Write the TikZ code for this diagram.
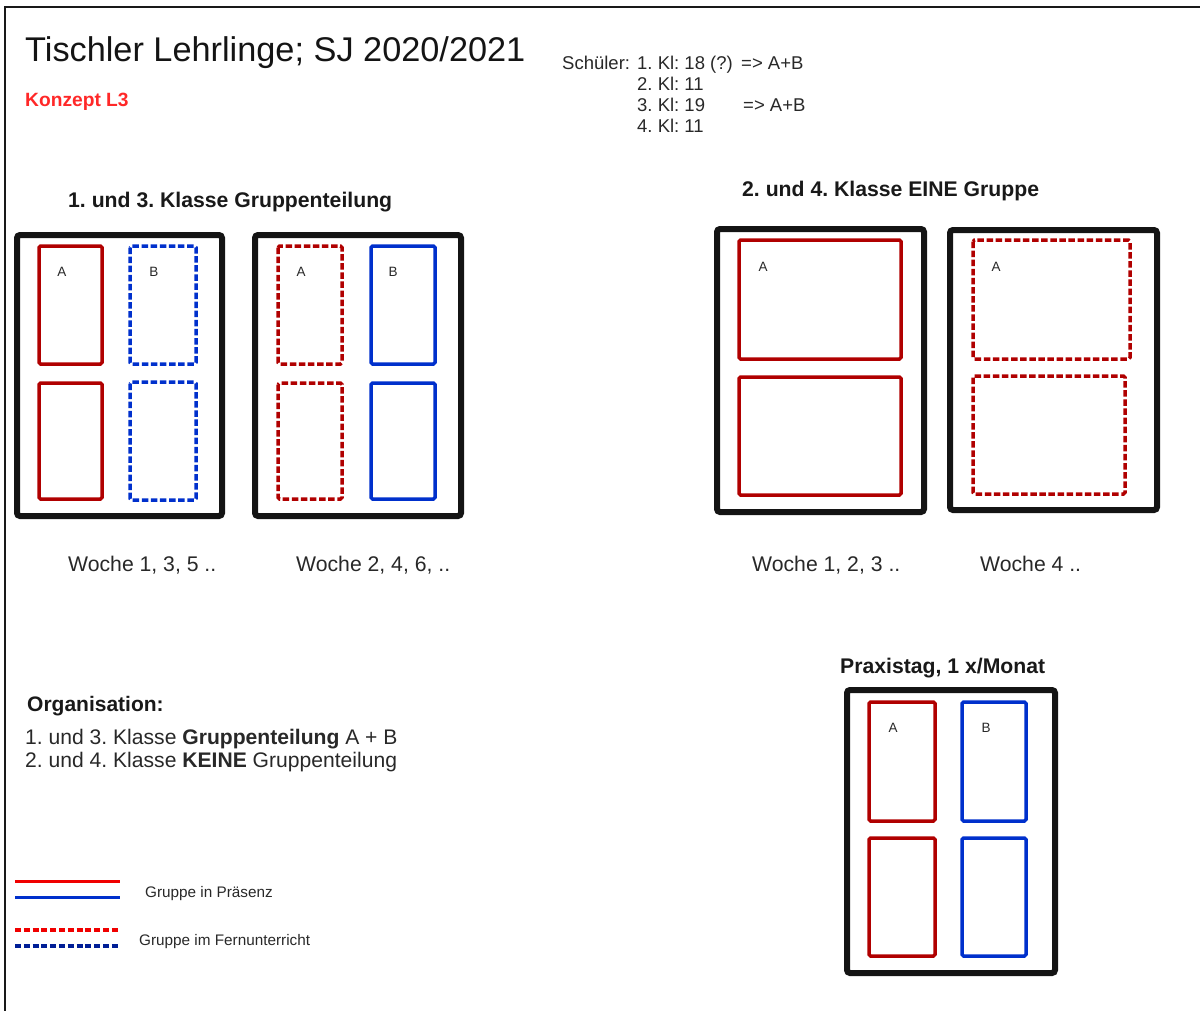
\documentclass[tikz,border=0pt]{standalone}
\usepackage{fontspec}
\setmainfont{Liberation Sans}
\frenchspacing
\definecolor{boxred}{RGB}{176,0,0}
\definecolor{boxblue}{RGB}{0,48,204}
\definecolor{legred}{RGB}{240,0,0}
\definecolor{legblue}{RGB}{0,48,204}
\definecolor{legnavy}{RGB}{0,30,150}
\definecolor{txt}{RGB}{40,40,40}
\definecolor{konz}{RGB}{255,40,40}
\begin{document}
\begin{tikzpicture}[x=1pt,y=-1pt,
  outerbox/.style={draw=black!92, line width=6pt, rounded corners=3pt},
  redsolid/.style={draw=boxred, line width=3.5pt, rounded corners=1.5pt},
  reddash/.style={draw=boxred, line width=3.5pt, rounded corners=1.5pt, dash pattern=on 6.5pt off 2.6pt},
  bluesolid/.style={draw=boxblue, line width=3.5pt, rounded corners=1.5pt},
  bluedash/.style={draw=boxblue, line width=3.5pt, rounded corners=1.5pt, dash pattern=on 6.5pt off 2.6pt},
  lbl/.style={inner sep=0pt, text=txt, font=\fontsize{13.5}{15}\selectfont},
  txtnode/.style={inner sep=0pt, anchor=west, text=txt},
  basenode/.style={inner sep=0pt, anchor=base west, text=txt},
  head/.style={inner sep=0pt, anchor=west, text=black!90, font=\fontsize{21.2}{25}\selectfont\bfseries},
  woche/.style={inner sep=0pt, anchor=base west, text=txt, font=\fontsize{21.2}{25}\selectfont},
]
\useasboundingbox (0,0) rectangle (1200,1010);
% page frame
\draw[line width=2pt, black!90] (5,1012) -- (5,7) -- (1203,7);

% title block
\node[txtnode, text=black!92, font=\fontsize{34.3}{40}\selectfont] (title) at (25,53) {Tischler Lehrlinge; SJ 2020/2021};
\node[txtnode, text=konz, font=\fontsize{19.2}{22}\selectfont\bfseries] (konzept) at (25,102) {Konzept L3};

% Schüler
\begin{scope}[every node/.style={basenode, font=\fontsize{18.5}{22}\selectfont}]
\node (s0) at (562,69) {Schüler:};
\node (s1) at (637,69) {1. Kl: 18 (?)};
\node (s1b) at (741,69) {=> A+B};
\node (s2) at (637,90) {2. Kl: 11};
\node (s3) at (637,111) {3. Kl: 19};
\node (s3b) at (743,111) {=> A+B};
\node (s4) at (637,132) {4. Kl: 11};
\end{scope}

% headings
\node[head] (h13) at (68,202) {1. und 3. Klasse Gruppenteilung};
\node[head] (h24) at (742,191) {2. und 4. Klasse EINE Gruppe};
\node[head] (hpx) at (840,668) {Praxistag, 1 x/Monat};

% box 1 : Woche 1,3,5
\draw[outerbox] (17,235) rectangle (222,516);
\draw[redsolid] (39,246) rectangle (102,364);
\draw[redsolid] (39,383) rectangle (102,499);
\draw[bluedash] (130,246) rectangle (196,364);
\draw[bluedash] (130,382) rectangle (196,500);
\node[lbl] (a1) at (62,272) {A};
\node[lbl] (b1) at (154,272) {B};

% box 2 : Woche 2,4,6
\draw[outerbox] (255,235) rectangle (461,516);
\draw[reddash] (278,246) rectangle (342,364);
\draw[reddash] (278,383) rectangle (342,499);
\draw[bluesolid] (371,246) rectangle (435,364);
\draw[bluesolid] (371,383) rectangle (435,499);
\node[lbl] (a2) at (301,272) {A};
\node[lbl] (b2) at (393,272) {B};

% box 3 : Woche 1,2,3
\draw[outerbox] (717,229) rectangle (924,512);
\draw[redsolid] (739,240) rectangle (901,359);
\draw[redsolid] (739,377) rectangle (901,495);
\node[lbl] (a3) at (763,267) {A};

% box 4 : Woche 4
\draw[outerbox] (950,230) rectangle (1157,510);
\draw[reddash] (973,240) rectangle (1130,359);
\draw[reddash] (973,376) rectangle (1125,494);
\node[lbl] (a4) at (996,267) {A};

% box 5 : Praxistag
\draw[outerbox] (847,690) rectangle (1055,973);
\draw[redsolid] (869,702) rectangle (935,821);
\draw[redsolid] (869,838) rectangle (935,956);
\draw[bluesolid] (962,702) rectangle (1026,821);
\draw[bluesolid] (962,838) rectangle (1026,956);
\node[lbl] (a5) at (893,728) {A};
\node[lbl] (b5) at (986,728) {B};

% Woche labels
\node[woche] (w1) at (68,571.5) {Woche 1, 3, 5 ..};
\node[woche] (w2) at (296,571.5) {Woche 2, 4, 6, ..};
\node[woche] (w3) at (752,571.5) {Woche 1, 2, 3 ..};
\node[woche] (w4) at (980,571.5) {Woche 4 ..};

% Organisation
\node[head, font=\fontsize{21}{25}\selectfont\bfseries] (org) at (27,706) {Organisation:};
\node[txtnode, font=\fontsize{21.1}{25}\selectfont] (org1) at (25,739) {1. und 3. Klasse \textbf{Gruppenteilung} A + B};
\node[txtnode, font=\fontsize{21.1}{25}\selectfont] (org2) at (25,762) {2. und 4. Klasse \textbf{KEINE} Gruppenteilung};

% legend
\coordinate (l1a) at (15,881); \coordinate (l1b) at (120,881);
\coordinate (l2a) at (15,897); \coordinate (l2b) at (120,897);
\coordinate (l3a) at (15,930); \coordinate (l3b) at (120,930);
\coordinate (l4a) at (15,946); \coordinate (l4b) at (120,946);
\draw[legred, line width=3pt] (l1a) -- (l1b);
\draw[legblue, line width=3pt] (l2a) -- (l2b);
\draw[legred, line width=3.2pt, dash pattern=on 6pt off 2.8pt] (l3a) -- (l3b);
\draw[legnavy, line width=3.2pt, dash pattern=on 6pt off 2.8pt] (l4a) -- (l4b);
\node[txtnode, font=\fontsize{15.3}{18}\selectfont] (leg1) at (145,894) {Gruppe in Präsenz};
\node[txtnode, font=\fontsize{15.3}{18}\selectfont] (leg2) at (139,942) {Gruppe im Fernunterricht};
\end{tikzpicture}
\end{document}
